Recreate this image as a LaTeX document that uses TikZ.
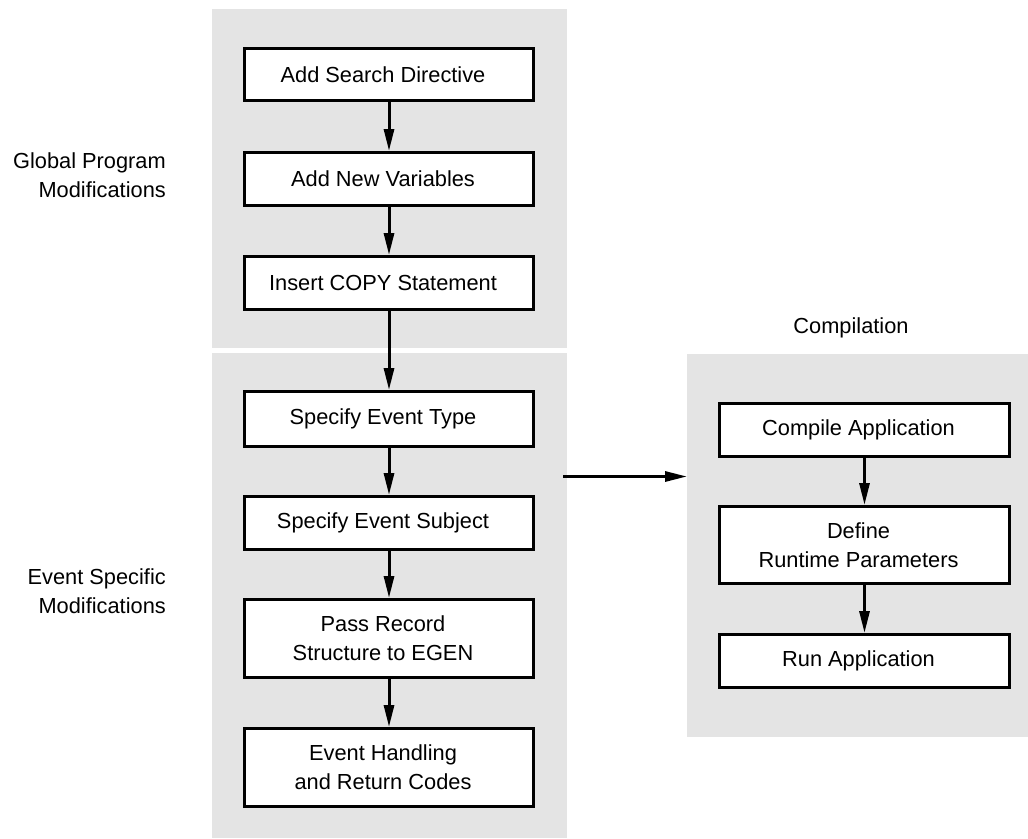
\documentclass[tikz,border=0pt]{standalone}
\usepackage{fontspec}
\setmainfont{Liberation Sans}
\usetikzlibrary{arrows.meta}

\definecolor{panelgray}{RGB}{228,228,228}

% each text line in a step box sits a little left of the box centre
\newcommand{\lft}{\hspace*{-12pt}}

\tikzset{
  panel/.style={fill=panelgray, draw=none, inner sep=0pt, outer sep=0pt},
  stepbox/.style={draw=black, fill=white, line width=3pt, minimum width=289pt,
    inner sep=0pt, align=center, font=\fontsize{21.8}{29}\selectfont},
  lefttitle/.style={anchor=east, align=right, inner sep=0pt,
    font=\fontsize{21.8}{29.5}\selectfont},
  flow/.style={line width=3pt, -{Triangle[length=22pt,width=10pt]}},
}

\begin{document}
\begin{tikzpicture}[x=1pt, y=-1pt]
  \useasboundingbox (0,0) rectangle (1028,838);

  % shaded grouping panels
  \node[panel, minimum width=355pt, minimum height=339pt] (global) at (389.5,178.5) {};
  \node[panel, minimum width=355pt, minimum height=485pt] (event)  at (389.5,595.5) {};
  \node[panel, minimum width=341pt, minimum height=383pt] (comp)   at (857.5,545.5) {};

  % group titles
  \node[lefttitle] (gtitle) at (166,175) {Global Program\\Modifications};
  \node[lefttitle] (etitle) at (166,591) {Event Specific\\Modifications};
  \node[inner sep=0pt, font=\fontsize{21.8}{29}\selectfont] (ctitle) at (851,328) {Compilation};

  % program modification steps
  \node[stepbox, minimum height=52pt] (s1) at (389,74.5)  {\lft Add Search Directive};
  \node[stepbox, minimum height=53pt] (s2) at (389,179)   {\lft Add New Variables};
  \node[stepbox, minimum height=53pt] (s3) at (389,283)   {\lft Insert COPY Statement};
  \node[stepbox, minimum height=55pt] (s4) at (389,419)   {\lft Specify Event Type};
  \node[stepbox, minimum height=53pt] (s5) at (389,523)   {\lft Specify Event Subject};
  \node[stepbox, minimum height=78pt] (s6) at (389,638.5) {\lft Pass Record\\\lft Structure to EGEN};
  \node[stepbox, minimum height=78pt] (s7) at (389,767.5) {\lft Event Handling\\\lft and Return Codes};

  % compilation steps
  \node[stepbox, minimum width=290pt, minimum height=53pt] (c1) at (864.5,430) {\lft Compile Application};
  \node[stepbox, minimum width=290pt, minimum height=77pt] (c2) at (864.5,545) {\lft Define\\\lft Runtime Parameters};
  \node[stepbox, minimum width=290pt, minimum height=53pt] (c3) at (864.5,661) {\lft Run Application};

  % flow arrows
  \draw[flow] (s1) -- (s2);
  \draw[flow] (s2) -- (s3);
  \draw[flow] (s3) -- (s4);
  \draw[flow] (s4) -- (s5);
  \draw[flow] (s5) -- (s6);
  \draw[flow] (s6) -- (s7);
  \draw[flow] (c1) -- (c2);
  \draw[flow] (c2) -- (c3);

  \coordinate (handoff) at (563,476.5);
  \draw[flow] (handoff) -- (handoff -| comp.west);
\end{tikzpicture}
\end{document}
